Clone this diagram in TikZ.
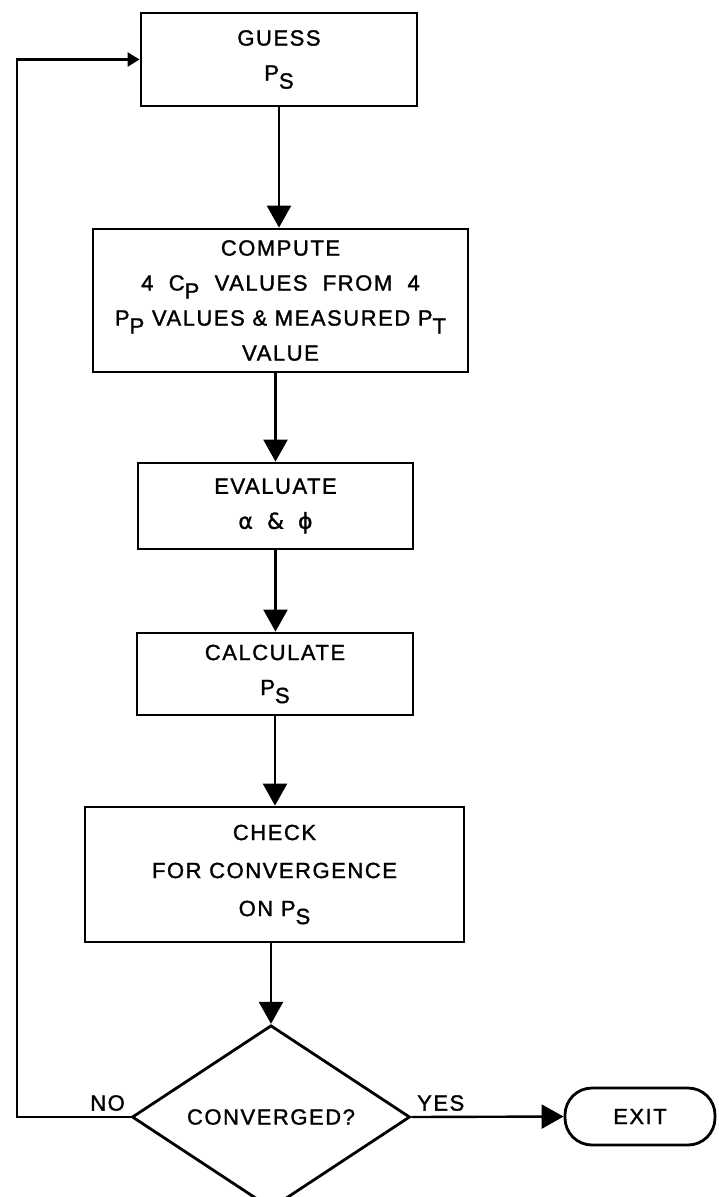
\documentclass[tikz,border=0pt]{standalone}
\usepackage{amsmath}
\usepackage{fontspec}
\setmainfont{Liberation Sans}[LetterSpace=7,FakeBold=1.4]
\newfontfamily\greekfont{DejaVu Sans}[FakeBold=1.4]
\usepackage{tikz}
\usetikzlibrary{arrows.meta,shapes.geometric}

\newcommand{\lowsub}[1]{\raisebox{-8pt}{#1}}

\begin{document}
\begin{tikzpicture}[x=1pt,y=1pt,yscale=-1,xscale=1,
    every node/.style={font=\fontsize{22}{35}\selectfont},
    procbox/.style={draw,line width=2.8pt,rectangle,align=center,inner sep=0pt},
    flow/.style={line width=2.4pt,-{Triangle[length=22pt,width=24pt]}},
    backflow/.style={line width=2.4pt,-{Triangle[length=12pt,width=14pt]}}]
                \useasboundingbox (0,0) rectangle (718,1197);

                %Shape: Rectangle [guess]
                \node[procbox,minimum width=276pt,minimum height=93pt] (guess) at (279,59.5) {GUESS\\P\lowsub{S}};
                %Shape: Rectangle [compute]
                \node[procbox,minimum width=375pt,minimum height=143pt] (compute) at (280.5,300.5)
                    {COMPUTE\\4 \ C\lowsub{P} \ VALUES \ FROM \ 4\\P\lowsub{P} VALUES \& MEASURED P\lowsub{T}\\VALUE};
                %Shape: Rectangle [evaluate]
                \node[procbox,minimum width=275pt,minimum height=86pt] (evaluate) at (275.5,506) {EVALUATE\\{\greekfont α \ \& \ ϕ}};
                %Shape: Rectangle [calculate]
                \node[procbox,minimum width=276pt,minimum height=82pt] (calculate) at (275,674) {CALCULATE\\P\lowsub{S}};
                %Shape: Rectangle [check]
                \node[procbox,minimum width=379pt,minimum height=135pt] (check) at (274.5,874.5)
                    {CHECK\\[3pt]FOR CONVERGENCE\\[3pt]ON P\lowsub{S}};
                %Shape: Diamond [conv]
                \node[draw,diamond,line width=2.8pt,minimum width=278pt,minimum height=160pt,inner sep=0pt] (conv) at (271,1117) {CONVERGED?};
                %Shape: Terminal [exit]
                \node[draw,line width=2.8pt,rounded corners=27pt,minimum width=150pt,minimum height=57pt] (exit) at (640,1116.5) {EXIT};

                %Straight Lines
                \draw[flow] (guess) -- (guess |- compute.north);
                \draw[flow] (evaluate |- compute.south) -- (evaluate.north);
                \draw[flow] (evaluate) -- (evaluate |- calculate.north);
                \draw[flow] (calculate) -- (calculate |- check.north);
                \draw[flow] (conv |- check.south) -- (conv.north);
                \draw[flow] (conv.east) -- (exit.west);
                %Loop back
                \coordinate (loop) at (17,600);
                \draw[backflow] (conv.west) -| (loop) |- (guess.west);

                % Text Node
                \node[anchor=south east,inner sep=0pt] (nolbl) at (125,1111) {NO};
                % Text Node
                \node[anchor=south west,inner sep=0pt] (yeslbl) at (417,1111) {YES};

\end{tikzpicture}
\end{document}
